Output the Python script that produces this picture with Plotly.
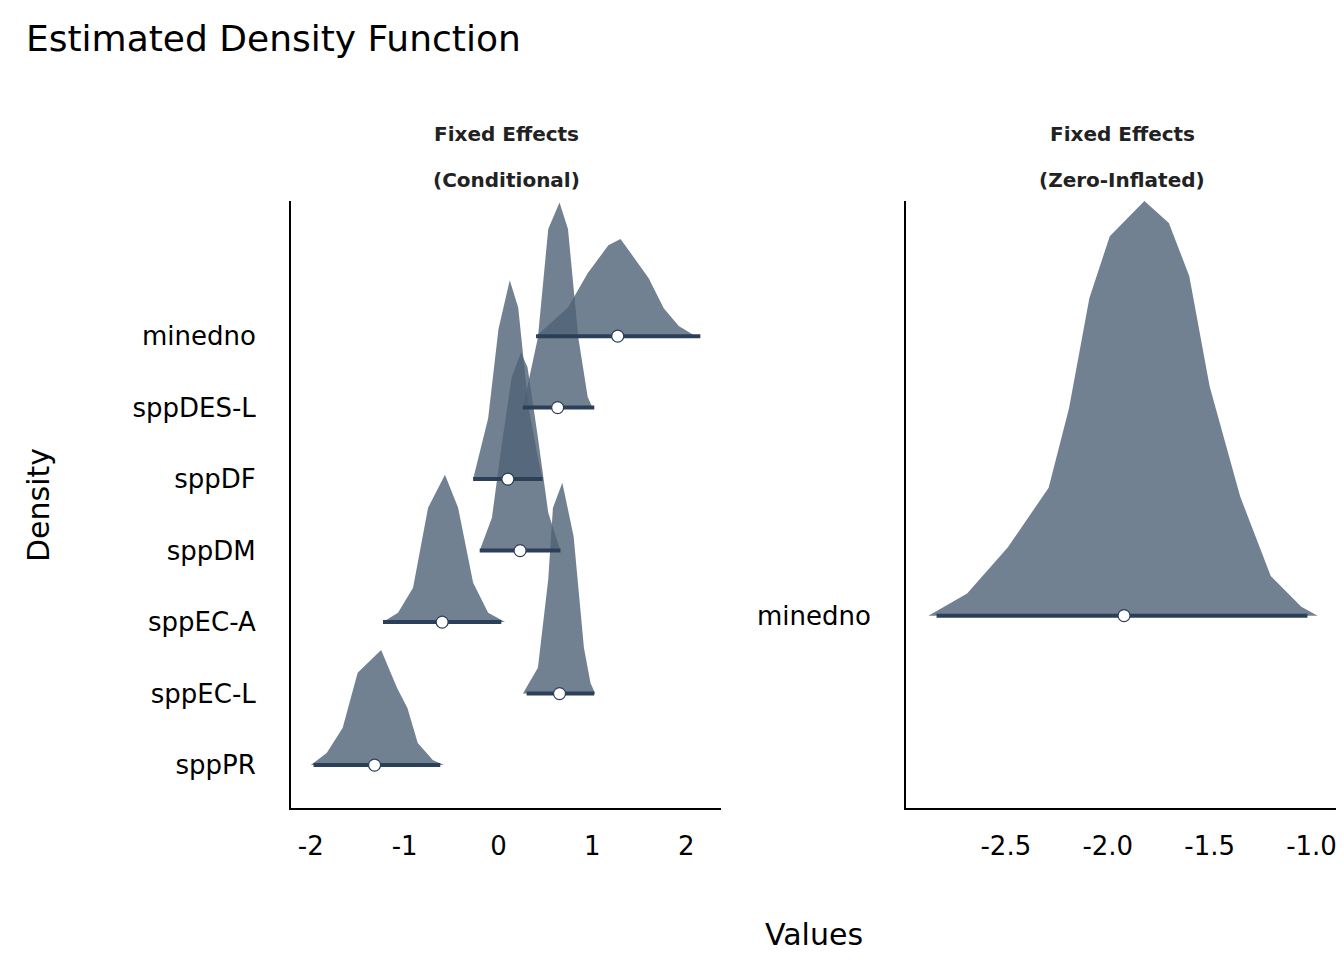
import plotly.graph_objects as go

# Conditional panel: per-term density outline (x, height in row units), median and interval
terms = ["minedno", "sppDES-L", "sppDF", "sppDM", "sppEC-A", "sppEC-L", "sppPR"]
rows = [7, 6, 5, 4, 3, 2, 1]
dens_x = [
    [0.40, 0.74, 0.95, 1.17, 1.30, 1.60, 1.76, 1.92, 2.10],
    [0.26, 0.42, 0.53, 0.65, 0.74, 0.85, 0.95, 1.00],
    [-0.27, -0.11, 0.00, 0.12, 0.21, 0.32, 0.42, 0.47],
    [-0.20, -0.07, 0.03, 0.14, 0.24, 0.31, 0.42, 0.53, 0.66],
    [-1.23, -1.07, -0.91, -0.75, -0.57, -0.43, -0.27, -0.11, 0.07],
    [0.26, 0.42, 0.53, 0.58, 0.68, 0.80, 0.91, 0.98, 1.03],
    [-2.00, -1.83, -1.66, -1.50, -1.25, -1.08, -0.97, -0.86, -0.70, -0.58],
]
dens_h = [
    [0.00, 0.40, 0.88, 1.27, 1.36, 0.81, 0.39, 0.14, 0.00],
    [0.00, 0.98, 2.50, 2.87, 2.50, 0.98, 0.15, 0.00],
    [0.00, 0.85, 2.10, 2.78, 2.40, 1.00, 0.30, 0.00],
    [0.00, 0.46, 1.44, 2.42, 2.77, 2.56, 1.58, 0.53, 0.00],
    [0.00, 0.13, 0.48, 1.60, 2.06, 1.60, 0.55, 0.13, 0.00],
    [0.00, 0.36, 1.60, 2.60, 2.95, 2.20, 0.64, 0.15, 0.00],
    [0.00, 0.17, 0.52, 1.29, 1.61, 1.08, 0.80, 0.31, 0.07, 0.00],
]
medians = [1.27, 0.63, 0.10, 0.23, -0.60, 0.65, -1.32]
ci_low = [0.40, 0.26, -0.27, -0.20, -1.23, 0.30, -1.97]
ci_high = [2.15, 1.02, 0.47, 0.66, 0.03, 1.02, -0.62]

# Zero-inflated panel
zi_term = "minedno"
zi_x = [-2.88, -2.69, -2.49, -2.29, -2.19, -2.09, -1.99, -1.82, -1.70, -1.60, -1.50, -1.35, -1.20, -1.05, -0.97]
zi_h = [0.00, 0.05, 0.155, 0.29, 0.47, 0.72, 0.86, 0.94, 0.89, 0.77, 0.52, 0.27, 0.09, 0.02, 0.00]
zi_median = -1.92
zi_low, zi_high = -2.84, -1.02

fill = "rgba(79,98,118,0.8)"
dark = "#2b3f58"

fig = go.Figure()
for i, t in enumerate(terms):
    b = rows[i]
    fig.add_trace(go.Scatter(x=dens_x[i] + dens_x[i][::-1], y=[b + h for h in dens_h[i]] + [b] * len(dens_x[i]),
                             fill="toself", fillcolor=fill, mode="lines", line=dict(width=0),
                             xaxis="x", yaxis="y", hoverinfo="skip"))
for i, t in enumerate(terms):
    b = rows[i]
    fig.add_trace(go.Scatter(x=[ci_low[i], ci_high[i]], y=[b, b], mode="lines",
                             line=dict(color=dark, width=4), xaxis="x", yaxis="y"))
fig.add_trace(go.Scatter(x=medians, y=rows, mode="markers",
                         marker=dict(size=12, color="white", line=dict(color=dark, width=1.2)),
                         xaxis="x", yaxis="y"))

fig.add_trace(go.Scatter(x=zi_x + zi_x[::-1], y=[1 + h for h in zi_h] + [1] * len(zi_x),
                         fill="toself", fillcolor=fill, mode="lines", line=dict(width=0),
                         xaxis="x2", yaxis="y2", hoverinfo="skip"))
fig.add_trace(go.Scatter(x=[zi_low, zi_high], y=[1, 1], mode="lines",
                         line=dict(color=dark, width=4), xaxis="x2", yaxis="y2"))
fig.add_trace(go.Scatter(x=[zi_median], y=[1], mode="markers",
                         marker=dict(size=12, color="white", line=dict(color=dark, width=1.2)),
                         xaxis="x2", yaxis="y2"))

axfont = dict(family="DejaVu Sans", size=26, color="black")
common = dict(showgrid=False, zeroline=False, showline=True, linecolor="black", linewidth=2,
              ticks="", tickfont=axfont)
fig.update_layout(
    width=1344, height=960, margin=dict(l=0, r=0, t=0, b=0),
    plot_bgcolor="white", paper_bgcolor="white", showlegend=False,
    font=dict(family="DejaVu Sans", color="black"),
    xaxis=dict(domain=[283 / 1344, 713 / 1344], range=[-2.21, 2.37],
               tickvals=[-2, -1, 0, 1, 2], ticktext=["-2", "-1", "0", "1", "2"], **common),
    yaxis=dict(domain=[160 / 960, 767 / 960], range=[0.4, 8.89], tickvals=rows, ticktext=terms,
               ticklabelstandoff=28, **common),
    xaxis2=dict(domain=[898 / 1344, 1330 / 1344], range=[-2.99, -0.87],
                tickvals=[-2.5, -2.0, -1.5, -1.0], ticktext=["-2.5", "-2.0", "-1.5", "-1.0"], **common),
    yaxis2=dict(domain=[160 / 960, 767 / 960], range=[0.564, 1.94], tickvals=[1], ticktext=[zi_term],
                anchor="x2", ticklabelstandoff=28, **common),
)
fig.update_xaxes(ticklabelstandoff=14)
ann = [
    dict(x=16 / 1344, y=1 - 30 / 960, text="Estimated Density Function", xanchor="left", font=dict(size=36)),
    dict(x=498 / 1344, y=1 - 126 / 960, text="<b>Fixed Effects</b>", font=dict(size=20, color="#222")),
    dict(x=498 / 1344, y=1 - 172 / 960, text="<b>(Conditional)</b>", font=dict(size=20, color="#222")),
    dict(x=1114 / 1344, y=1 - 126 / 960, text="<b>Fixed Effects</b>", font=dict(size=20, color="#222")),
    dict(x=1114 / 1344, y=1 - 172 / 960, text="<b>(Zero-Inflated)</b>", font=dict(size=20, color="#222")),
    dict(x=806 / 1344, y=1 - 926 / 960, text="Values", font=dict(size=30)),
    dict(x=30 / 1344, y=1 - 497 / 960, text="Density", textangle=-90, font=dict(size=30)),
]
for a in ann:
    a.update(xref="paper", yref="paper", showarrow=False, yanchor="middle")
    a.setdefault("xanchor", "center")
fig.update_layout(annotations=ann)
fig.write_html("out.html")
